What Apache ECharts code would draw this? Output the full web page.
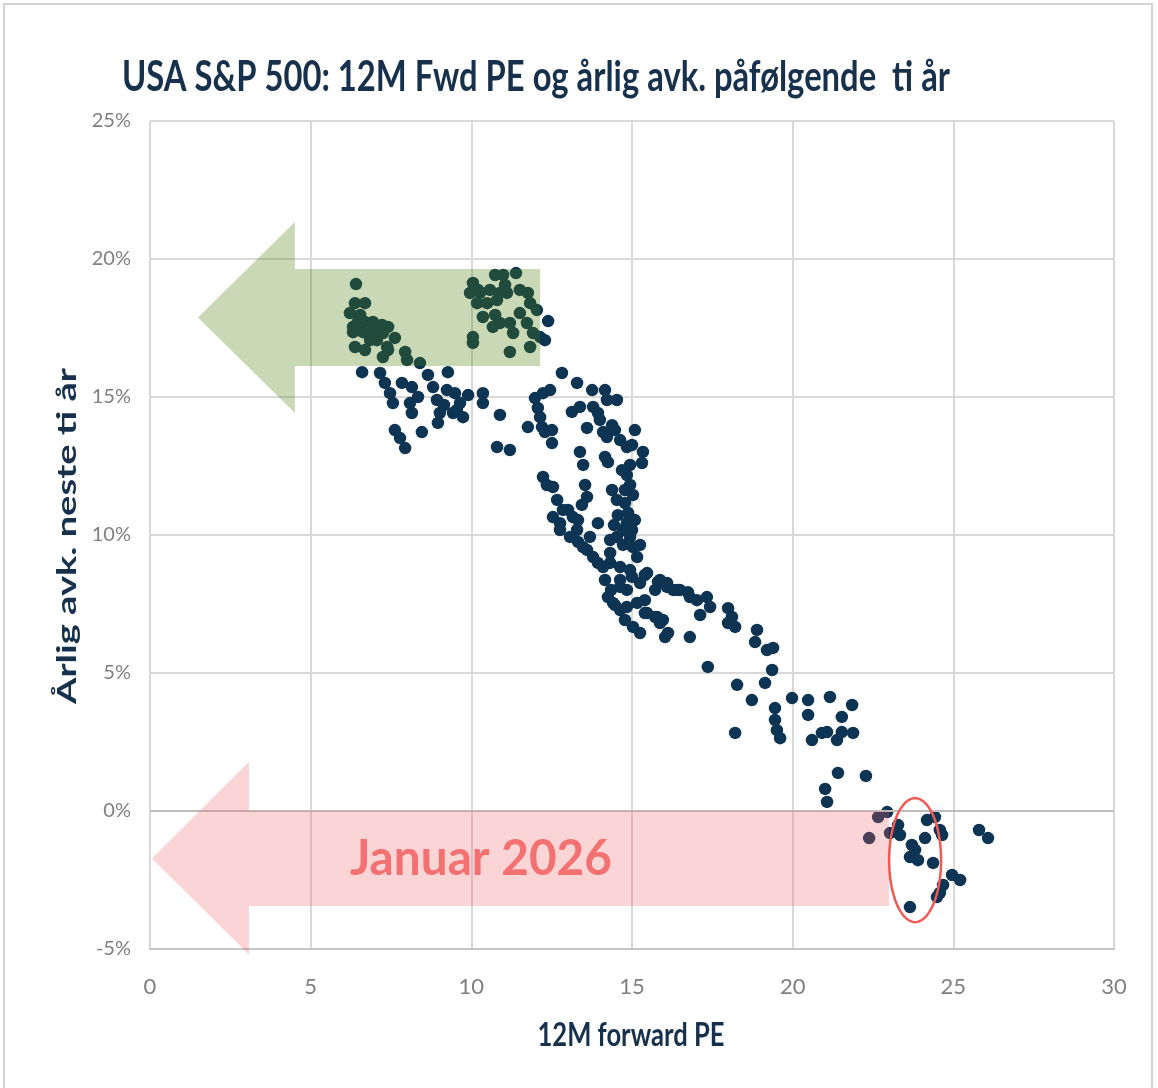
<!DOCTYPE html>
<html><head><meta charset="utf-8">
<script src="https://cdn.jsdelivr.net/npm/echarts@6/dist/echarts.min.js"></script>
<style>html,body{margin:0;padding:0;background:#fff}#c{width:1158px;height:1088px}</style>
</head><body><div id="c"></div>
<script>
// 12M forward PE (x) and annual return next ten years in % (y)
const peValues = [
6.41,6.38,6.69,6.22,6.54,6.32,6.69,6.94,7.22,7.41,6.32,6.63,6.94,7.25,6.38,6.69,7.06,7.38,7.41,7.25,7.94,8.00,8.40,6.47,6.85,7.62,
6.60,7.16,7.31,7.47,7.56,7.84,8.15,8.09,8.15,7.62,7.78,7.94,8.46,8.65,8.81,8.93,9.02,8.96,9.27,9.24,9.49,9.65,9.74,9.43,9.90,10.36,10.36,10.89,10.80,11.20,8.34,9.15,9.55,
10.74,10.99,11.39,10.05,9.96,10.27,10.58,10.89,11.11,11.76,11.83,10.18,10.49,10.80,10.36,10.74,10.89,10.67,11.20,11.30,11.51,11.73,11.92,11.83,12.04,12.14,10.05,10.05,11.20,12.29,12.39,11.05,11.51,10.21,
12.82,11.98,12.23,12.45,12.07,12.14,12.20,12.29,12.51,12.51,11.76,13.29,13.76,14.16,14.22,14.53,13.13,13.38,13.79,13.94,13.60,14.00,14.10,14.22,14.38,14.47,14.63,14.84,15.00,15.09,
14.16,14.25,13.38,13.48,15.34,15.31,14.84,12.23,12.35,12.54,12.67,12.85,13.54,13.60,13.44,14.38,14.53,14.78,14.88,14.84,12.54,12.76,13.01,13.16,13.32,13.29,12.76,13.07,13.32,13.48,
13.69,13.94,14.32,14.53,14.72,14.94,15.03,15.16,13.60,13.79,13.94,14.10,14.32,14.63,14.94,14.63,15.00,15.25,15.47,15.87,16.09,16.28,16.49,16.80,14.25,14.41,14.63,14.84,15.16,15.47,
15.78,15.96,15.03,15.25,16.03,16.80,14.63,14.84,14.94,15.03,14.56,14.44,14.72,14.32,14.16,14.35,14.47,14.78,15.40,15.72,14.69,14.94,14.78,15.09,15.00,15.25,
15.40,15.81,16.09,16.40,16.74,17.02,17.33,17.43,17.12,15.40,15.72,15.87,16.12,17.99,18.11,18.21,17.99,18.89,18.83,19.20,19.39,17.36,19.36,19.14,18.27,18.73,19.45,19.45,19.51,19.61,
18.21,19.98,20.48,20.48,21.16,21.85,21.53,20.60,20.91,21.07,21.38,21.53,21.88,21.41,22.28,21.01,21.07,22.94,22.66,22.38,23.03,23.28,23.34,24.18,24.43,24.58,24.65,24.12,23.71,23.81,
23.65,23.90,24.37,24.96,25.21,24.68,24.58,24.49,23.65,25.80,26.08
];
const returnValues = [
19.09,18.40,18.40,18.04,17.97,17.54,17.72,17.72,17.61,17.54,17.35,17.35,17.43,17.32,16.81,16.70,17.06,16.81,16.70,16.45,16.63,16.34,16.23,17.72,17.06,17.14,
15.90,15.87,15.51,15.14,14.78,15.51,15.36,14.78,14.42,13.80,13.51,13.15,13.73,15.80,15.36,14.89,14.42,14.06,15.90,15.25,15.14,14.78,14.27,14.42,15.07,15.14,14.78,14.35,13.19,13.08,15.00,14.71,14.53,
19.42,19.42,19.49,19.13,18.77,18.77,18.88,18.77,18.77,18.77,18.40,18.40,18.40,18.51,17.90,17.97,17.68,17.54,17.68,17.32,18.04,17.68,17.32,16.81,18.15,17.17,17.17,16.96,16.63,17.06,17.75,19.06,18.88,18.88,
15.87,14.96,15.14,15.25,14.60,14.27,13.91,13.73,13.80,13.33,13.91,15.51,15.25,15.25,14.89,14.89,14.46,14.64,14.64,14.42,13.88,14.17,13.73,13.55,13.98,13.80,13.44,13.19,13.26,13.80,
12.83,12.64,13.01,12.54,13.01,12.61,12.17,12.10,11.81,11.74,11.27,10.91,11.81,11.38,11.09,11.63,11.27,11.16,10.80,10.43,10.65,10.43,10.91,10.65,10.54,10.18,10.18,9.93,9.75,9.56,
9.93,10.43,9.82,9.93,10.18,9.93,9.56,9.20,9.46,9.20,8.99,8.84,8.99,8.84,8.73,8.37,8.48,8.26,8.62,8.37,8.26,8.01,8.01,7.75,7.75,7.54,7.28,7.39,7.54,7.17,
7.03,6.92,6.67,6.45,6.30,6.30,8.12,8.01,11.81,11.45,10.72,10.36,9.64,9.35,8.37,8.01,7.46,6.92,7.64,8.01,12.35,12.54,11.63,10.54,10.18,9.64,
8.55,8.30,8.12,8.01,7.93,7.64,7.75,7.39,7.10,7.17,7.03,6.81,6.45,7.35,7.03,6.67,6.81,6.56,6.12,5.83,5.91,5.22,5.11,4.64,4.57,4.02,3.73,3.30,2.93,2.64,
2.83,4.09,4.02,3.48,4.13,3.84,3.41,2.57,2.83,2.86,2.57,2.86,2.83,1.38,1.27,0.80,0.33,-0.04,-0.22,-0.98,-0.80,-0.51,-0.87,-0.33,-0.22,-0.69,-0.87,-0.98,-1.23,-1.41,
-1.67,-1.78,-1.88,-2.32,-2.50,-2.68,-2.97,-3.12,-3.48,-0.69,-0.98
];
const xAxisRange = [0, 30, 5];
const yAxisRange = [-5, 25, 5];
const titleText = 'USA S&P 500: 12M Fwd PE og årlig avk. påfølgende  ti år';
const xAxisTitle = '12M forward PE';
const yAxisTitle = 'Årlig avk. neste ti år';
const calloutText = 'Januar 2026';

const points = peValues.map((v, i) => [v, returnValues[i]]);
const chart = echarts.init(document.getElementById('c'));
const navy = '#17314d';
chart.setOption({
  animation: false,
  backgroundColor: '#fff',
  grid: { left: 150, right: 44, top: 121, bottom: 139 },
  xAxis: {
    type: 'value', min: xAxisRange[0], max: xAxisRange[1], interval: xAxisRange[2],
    axisLine: { show: true, onZero: false, lineStyle: { color: '#c6c6c6', width: 2 } },
    axisTick: { show: false },
    axisLabel: { color: '#7f7f7f', fontSize: 22, fontFamily: 'Lato', margin: 27 },
    splitLine: { show: true, lineStyle: { color: '#d9d9d9', width: 2 } }
  },
  yAxis: {
    type: 'value', min: yAxisRange[0], max: yAxisRange[1], interval: yAxisRange[2],
    axisLine: { show: false }, axisTick: { show: false },
    axisLabel: { color: '#7f7f7f', fontSize: 20, fontFamily: 'Lato', margin: 19, formatter: '{value}%' },
    splitLine: { show: true, lineStyle: { color: '#d9d9d9', width: 2 } }
  },
  series: [{
    type: 'scatter', data: points, symbolSize: 12.5,
    itemStyle: { color: '#0d3452', opacity: 1 },
    markLine: {
      silent: true, symbol: 'none', label: { show: false },
      lineStyle: { color: '#bdbdbd', width: 2, type: 'solid' },
      data: [{ yAxis: 0 }]
    }
  }]
});

const mctx = document.createElement('canvas').getContext('2d');
function fit(text, weight, size, target) {
  mctx.font = weight + ' ' + size + 'px Lato';
  return target / mctx.measureText(text).width;
}
const P = (x, y) => chart.convertToPixel({ gridIndex: 0 }, [x, y]);
const poly = (arr) => arr.map(p => P(p[0], p[1]));

const greenArrow = [[1.49,17.88],[4.51,21.34],[4.51,19.64],[12.14,19.64],[12.14,16.12],[4.51,16.12],[4.51,14.42]];
const pinkArrow = [[0.06,-1.72],[3.08,1.78],[3.08,0.0],[23.0,0.0],[23.0,-3.44],[3.08,-3.44],[3.08,-5.2]];
const ellipseCenter = P(23.81, -1.78);
const ell = [];
for (let k = 0; k < 72; k++) {
  const t = k / 72 * Math.PI * 2;
  ell.push([ellipseCenter[0] + 26 * Math.cos(t), ellipseCenter[1] + 62 * Math.sin(t)]);
}
const callout = P(10.3, -1.72);

chart.setOption({
  graphic: [
    { type: 'rect', z: 1, shape: { x: 4, y: 4, width: 1148, height: 1110 },
      style: { fill: 'none', stroke: '#d4d4d4', lineWidth: 2 } },
    { type: 'polygon', z: 50, shape: { points: poly(greenArrow) },
      style: { fill: 'rgba(78,128,10,0.30)' } },
    { type: 'polygon', z: 50, shape: { points: poly(pinkArrow) },
      style: { fill: 'rgba(240,96,104,0.27)' } },
    { type: 'polygon', z: 51, shape: { points: ell },
      style: { fill: 'none', stroke: '#ef5a55', lineWidth: 2.5 } },
    { type: 'text', z: 52, x: callout[0], y: callout[1],
      scaleX: fit(calloutText, 'bold', 50, 262),
      style: { text: calloutText, fontFamily: 'Lato', fontWeight: 'bold', fontSize: 50, fill: '#f37171', align: 'center', verticalAlign: 'middle' } },
    { type: 'text', z: 52, x: 122, y: 77,
      scaleX: fit(titleText, 'bold', 42, 828),
      style: { text: titleText, fontFamily: 'Lato', fontWeight: 'bold', fontSize: 42, fill: navy, align: 'left', verticalAlign: 'middle' } },
    { type: 'text', z: 52, x: 631, y: 1035,
      scaleX: fit(xAxisTitle, 'bold', 33, 187),
      style: { text: xAxisTitle, fontFamily: 'Lato', fontWeight: 'bold', fontSize: 33, fill: navy, align: 'center', verticalAlign: 'middle' } },
    { type: 'text', z: 52, x: 68, y: 536, rotation: Math.PI / 2,
      scaleX: fit(yAxisTitle, 'bold', 26, 336),
      style: { text: yAxisTitle, fontFamily: 'Lato', fontWeight: 'bold', fontSize: 26, fill: navy, align: 'center', verticalAlign: 'middle' } }
  ]
});
</script>
</body></html>
